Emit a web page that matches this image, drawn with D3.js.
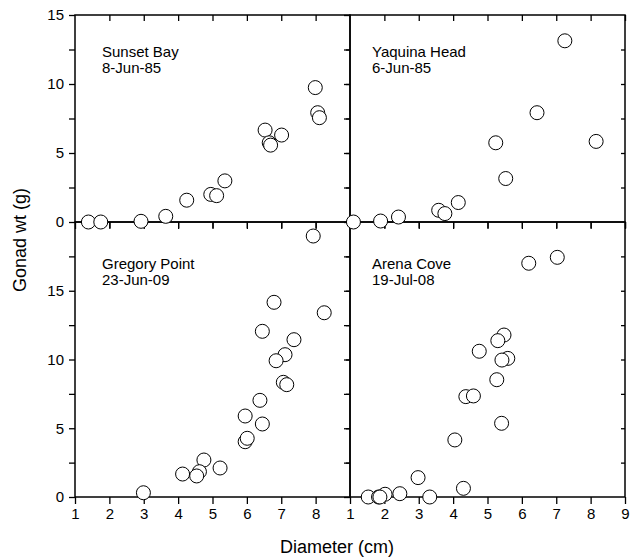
<!DOCTYPE html>
<html>
<head>
<meta charset="utf-8">
<script src="https://cdn.jsdelivr.net/npm/d3@7"></script>
<style>
  body { margin: 0; background: #fff; }
  svg text { font-family: "Liberation Sans", Arial, sans-serif; fill: #000; }
</style>
</head>
<body>
<div id="chart"></div>
<script>
// diameter (cm), gonad weight (g) for each site
const sunsetX = [1.39, 1.75, 2.92, 3.64, 4.25, 4.95, 5.12, 5.36, 6.53, 6.65, 6.69, 7.01, 7.99, 8.06, 8.11];
const sunsetY = [0, 0, 0.05, 0.41, 1.58, 2.0, 1.91, 2.98, 6.66, 5.74, 5.57, 6.3, 9.74, 7.92, 7.56];

const yaquinaX = [1.1, 1.89, 2.41, 3.58, 3.76, 4.15, 5.24, 5.53, 6.44, 7.25, 8.16];
const yaquinaY = [0, 0.07, 0.36, 0.85, 0.61, 1.41, 5.74, 3.15, 7.92, 13.13, 5.84];

const gregoryX = [7.93, 6.79, 8.25, 6.45, 7.37, 7.11, 6.85, 7.06, 7.16, 6.38, 5.95, 6.45, 5.95, 6.01, 4.75, 4.62, 4.13, 4.54, 5.22, 2.99];
const gregoryY = [18.98, 14.16, 13.4, 12.05, 11.44, 10.35, 9.91, 8.34, 8.17, 7.03, 5.89, 5.31, 4.02, 4.27, 2.69, 1.84, 1.67, 1.53, 2.11, 0.31];

const arenaX = [7.03, 6.2, 5.48, 5.3, 4.76, 5.59, 5.42, 5.27, 4.37, 4.59, 5.41, 4.05, 2.98, 4.3, 2.45, 2.02, 1.53, 1.83, 1.87, 3.32];
const arenaY = [17.43, 17.0, 11.78, 11.37, 10.6, 10.08, 9.96, 8.53, 7.3, 7.35, 5.36, 4.15, 1.41, 0.63, 0.24, 0.2, 0, 0, 0, 0];

const siteNames = ["Sunset Bay", "Yaquina Head", "Gregory Point", "Arena Cove"];
const siteDates = ["8-Jun-85", "6-Jun-85", "23-Jun-09", "19-Jul-08"];

const xTicks = [1, 2, 3, 4, 5, 6, 7, 8, 9];
const yTicksTop = [0, 2.5, 5, 7.5, 10, 12.5, 15];
const yTicksBottom = [0, 2.5, 5, 7.5, 10, 12.5, 15, 17.5, 20];

const width = 630, height = 557;
const plotLeft = 75, plotMid = 350, plotRight = 625;
const plotTop = 15, plotMidY = 222, plotBottom = 497;

const svg = d3.select("#chart").append("svg")
  .attr("width", width)
  .attr("height", height);

const xLeft = d3.scaleLinear().domain([1, 9]).range([plotLeft, plotMid]);
const xRight = d3.scaleLinear().domain([1, 9]).range([plotMid, plotRight]);
const yTop = d3.scaleLinear().domain([0, 15]).range([plotMidY, plotTop]);
const yBottom = d3.scaleLinear().domain([0, 20]).range([plotBottom, plotMidY]);

const panels = [
  { x: xLeft, y: yTop, xs: sunsetX, ys: sunsetY, col: 0, row: 0 },
  { x: xRight, y: yTop, xs: yaquinaX, ys: yaquinaY, col: 1, row: 0 },
  { x: xLeft, y: yBottom, xs: gregoryX, ys: gregoryY, col: 0, row: 1 },
  { x: xRight, y: yBottom, xs: arenaX, ys: arenaY, col: 1, row: 1 },
];

const fmt = (d) => (d % 5 === 0 ? d : "");

function styleAxis(g) {
  g.select(".domain").remove();
  g.selectAll(".tick line").attr("stroke", "#000").attr("stroke-width", 1.3);
  g.selectAll(".tick text")
    .style("font-family", "'Liberation Sans', Arial, sans-serif")
    .style("font-size", "15px")
    .attr("fill", "#000");
}

panels.forEach((p, i) => {
  const [x0, x1] = p.x.range();
  const [y0, y1] = p.y.range(); // y0 bottom, y1 top
  const yTicks = p.row === 0 ? yTicksTop : yTicksBottom;
  const xt = p.col === 0 ? xTicks.slice(0, 8) : xTicks;

  // left side: outward ticks
  svg.append("g")
    .attr("transform", `translate(${x0},0)`)
    .call(d3.axisLeft(p.y).tickValues(p.row === 0 ? yTicks : yTicks.slice(0, -1))
      .tickSize(6).tickPadding(5)
      .tickFormat(p.col === 0 ? fmt : () => ""))
    .call(styleAxis);

  // right side: inward ticks
  svg.append("g")
    .attr("transform", `translate(${x1},0)`)
    .call(d3.axisRight(p.y).tickValues(yTicks.slice(1, -1)).tickSize(-4).tickFormat(() => ""))
    .call(styleAxis);

  // top side: inward ticks
  svg.append("g")
    .attr("transform", `translate(0,${y1})`)
    .call(d3.axisTop(p.x).tickValues(xt.slice(1)).tickSize(-6).tickFormat(() => ""))
    .call(styleAxis);

  // bottom side: outward ticks
  svg.append("g")
    .attr("transform", `translate(0,${y0})`)
    .call(d3.axisBottom(p.x).tickValues(xt).tickSize(7).tickPadding(4)
      .tickFormat(p.row === 1 ? d3.format("d") : () => ""))
    .call(styleAxis);

  svg.append("rect")
    .attr("x", x0).attr("y", y1)
    .attr("width", x1 - x0).attr("height", y0 - y1)
    .attr("fill", "none")
    .attr("stroke", "#000")
    .attr("stroke-width", 1.5);

  const lx = x0 + (p.col === 0 ? 27 : 22);
  const label = svg.append("text")
    .attr("x", lx)
    .attr("y", y1 + (p.row === 0 ? 42 : 47))
    .style("font-size", "15px");
  label.append("tspan").text(siteNames[i]);
  label.append("tspan")
    .attr("x", lx)
    .attr("dy", 16)
    .text(siteDates[i]);
});

// points last so they sit on top of the frame
panels.forEach((p) => {
  svg.append("g")
    .selectAll("circle")
    .data(p.xs.map((d, j) => ({ x: d, y: p.ys[j] })))
    .join("circle")
    .attr("cx", (d) => p.x(d.x))
    .attr("cy", (d) => p.y(d.y))
    .attr("r", 7)
    .attr("fill", "#fff")
    .attr("stroke", "#000")
    .attr("stroke-width", 1);
});

svg.append("text")
  .attr("x", 337)
  .attr("y", 553)
  .attr("text-anchor", "middle")
  .style("font-size", "18px")
  .text("Diameter (cm)");

svg.append("text")
  .attr("transform", "translate(26,240) rotate(-90)")
  .attr("text-anchor", "middle")
  .style("font-size", "18px")
  .text("Gonad wt (g)");
</script>
</body>
</html>
